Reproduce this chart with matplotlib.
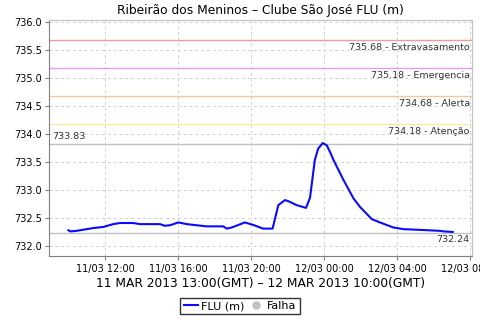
import numpy as np
import matplotlib
matplotlib.use('Agg')
import matplotlib.pyplot as plt
import matplotlib.dates as mdates
from matplotlib.lines import Line2D
from datetime import datetime

# leituras (hora local) e nivel em metros
horas = ['11/03 10:00', '11/03 10:07', '11/03 10:27', '11/03 10:49', '11/03 11:22',
         '11/03 11:55', '11/03 12:27', '11/03 12:49', '11/03 13:33', '11/03 13:55',
         '11/03 15:01', '11/03 15:17', '11/03 15:34', '11/03 16:01', '11/03 16:29',
         '11/03 17:01', '11/03 17:34', '11/03 18:29', '11/03 18:40', '11/03 18:57',
         '11/03 19:40', '11/03 20:08', '11/03 20:40', '11/03 21:11', '11/03 21:30',
         '11/03 21:52', '11/03 22:03', '11/03 22:30', '11/03 23:01', '11/03 23:14',
         '11/03 23:30', '11/03 23:41', '11/03 23:56', '12/03 00:09', '12/03 00:20',
         '12/03 00:31', '12/03 01:04', '12/03 01:37', '12/03 01:58', '12/03 02:37',
         '12/03 03:04', '12/03 03:48', '12/03 04:21', '12/03 05:05', '12/03 06:21',
         '12/03 06:33', '12/03 07:03']
nivel = [732.28, 732.26, 732.27, 732.29, 732.32,
         732.34, 732.39, 732.41, 732.41, 732.39,
         732.39, 732.36, 732.37, 732.42, 732.39,
         732.37, 732.35, 732.35, 732.31, 732.33,
         732.42, 732.375, 732.31, 732.31, 732.73,
         732.82, 732.80, 732.73, 732.68, 732.86,
         733.54, 733.74, 733.84, 733.80, 733.68,
         733.54, 733.18, 732.85, 732.70, 732.48,
         732.42, 732.33, 732.30, 732.29, 732.27,
         732.26, 732.25]

cotas = [735.68, 735.18, 734.68, 734.18]
nomes = ['Extravasamento', 'Emergencia', 'Alerta', 'Atenção']
cores = ['#f09c9c', '#e89cf0', '#f5c89c', '#f5eca8']
maximo = 733.83
minimo = 732.24

t = [datetime.strptime('2013/' + h, '%Y/%d/%m %H:%M') for h in horas]

fig = plt.figure(figsize=(4.8, 3.2), dpi=100)
ax = fig.add_axes([0.102, 0.2, 0.881, 0.7375])

for c, n, cor in zip(cotas, nomes, cores):
    ax.axhline(c, color=cor, lw=1.0, zorder=2)
    ax.text(0.995, c - 0.05, '%.2f - %s' % (c, n), transform=ax.get_yaxis_transform(),
            ha='right', va='top', fontsize=6.8, color='#333333')
ax.axhline(maximo, color='#c0c0c0', lw=1.0, zorder=2)
ax.axhline(minimo, color='#c0c0c0', lw=1.0, zorder=2)
ax.text(0.007, maximo + 0.05, '%.2f' % maximo, transform=ax.get_yaxis_transform(),
        ha='left', va='bottom', fontsize=6.8, color='#333333')
ax.text(0.995, minimo - 0.05, '%.2f' % minimo, transform=ax.get_yaxis_transform(),
        ha='right', va='top', fontsize=6.8, color='#333333')

ax.plot(t, nivel, color='#0a0aff', lw=1.5, zorder=3)

ax.set_xlim(datetime(2013, 3, 11, 8, 56), datetime(2013, 3, 12, 8, 6))
ax.set_ylim(731.82, 736.04)
ax.set_yticks(np.arange(732.0, 736.01, 0.5))
ax.yaxis.set_major_formatter(plt.FormatStrFormatter('%.1f'))
ax.xaxis.set_major_locator(mdates.HourLocator(byhour=[0, 4, 8, 12, 16, 20]))
ax.xaxis.set_major_formatter(mdates.DateFormatter('%d/%m %H:%M'))

ax.grid(True, color='#d0d0d0', ls=(0, (3, 3)), lw=0.7)
ax.tick_params(labelsize=7, length=3, color='#808080', pad=2)
ax.tick_params(axis='x', pad=3)
for s in ['left', 'bottom']:
    ax.spines[s].set_color('#808080')
for s in ['top', 'right']:
    ax.spines[s].set_color('#c0c0c0')

ax.set_title('Ribeirão dos Meninos – Clube São José FLU (m)', fontsize=8.8, pad=4)
ax.set_xlabel('11 MAR 2013 13:00(GMT) – 12 MAR 2013 10:00(GMT)', fontsize=8.8, labelpad=2)

h = [Line2D([], [], color='#0a0aff', lw=1.5),
     Line2D([], [], color='#c0c0c0', marker='o', ls='', ms=5)]
fig.legend(h, ['FLU (m)', 'Falha'], loc='lower center', bbox_to_anchor=(0.5, 0.0),
           ncol=2, fontsize=8, frameon=True, fancybox=False, edgecolor='black',
           handlelength=1.3, handletextpad=0.3, columnspacing=0.4, borderpad=0.3)

fig.savefig('out.png', dpi=100)
